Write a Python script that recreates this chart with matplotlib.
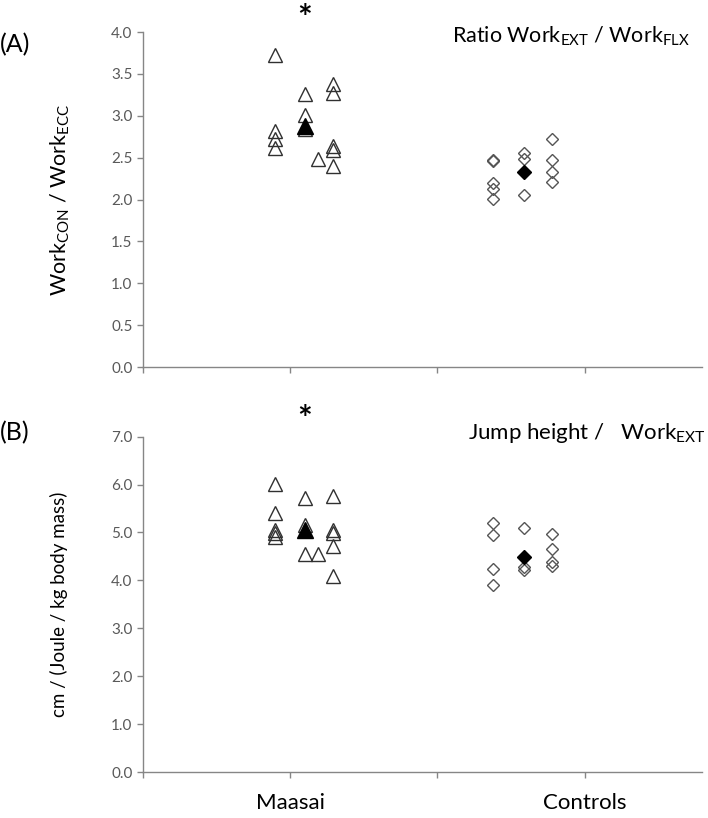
"""Work ratio and jump height per work, Maasai vs controls."""

import matplotlib
matplotlib.use("Agg")
import matplotlib.pyplot as plt

plt.rcParams['font.family'] = ['Lato', 'DejaVu Sans']
plt.rcParams['mathtext.fontset'] = 'custom'
plt.rcParams['mathtext.rm'] = 'Lato'
plt.rcParams['mathtext.it'] = 'Lato:italic'
plt.rcParams['mathtext.bf'] = 'Lato:bold'

# group positions on the x axis
group_labels = ['', 'Maasai', '', 'Controls']
group_ticks = [0, 1, 2, 3]

# (A) Work_CON / Work_ECC -- individual values (x = jittered column)
maasai_x_a = [0.90, 0.90, 0.90, 0.90, 1.10, 1.10, 1.10, 1.19, 1.29, 1.29, 1.29, 1.29, 1.29]
maasai_y_a = [3.73, 2.82, 2.72, 2.61, 3.26, 3.01, 2.84, 2.49, 3.38, 3.27, 2.64, 2.59, 2.40]
maasai_mean_a = (1.10, 2.88)
controls_x_a = [2.38, 2.38, 2.38, 2.38, 2.38, 2.59, 2.59, 2.59, 2.78, 2.78, 2.78, 2.78]
controls_y_a = [2.47, 2.46, 2.20, 2.13, 2.01, 2.55, 2.48, 2.05, 2.72, 2.47, 2.33, 2.21]
controls_mean_a = (2.59, 2.33)

# (B) jump height / Work_EXT
maasai_x_b = [0.90, 0.90, 0.90, 0.90, 0.90, 1.10, 1.10, 1.10, 1.19, 1.29, 1.29, 1.29, 1.29, 1.29]
maasai_y_b = [6.02, 5.41, 5.05, 4.98, 4.90, 5.71, 5.16, 4.56, 4.55, 5.77, 5.06, 4.99, 4.72, 4.10]
maasai_mean_b = (1.10, 5.05)
controls_x_b = [2.38, 2.38, 2.38, 2.38, 2.59, 2.59, 2.59, 2.78, 2.78, 2.78, 2.78]
controls_y_b = [5.20, 4.95, 4.23, 3.90, 5.09, 4.27, 4.22, 4.97, 4.66, 4.39, 4.29]
controls_mean_b = (2.59, 4.48)

axis_grey = '#868686'
tick_grey = '#595959'

fig = plt.figure(figsize=(7.08, 8.18), dpi=100)
ax_a = fig.add_axes([0.202, 0.5513, 0.790, 0.4095])
ax_b = fig.add_axes([0.202, 0.0562, 0.790, 0.4100])


def style_axes(ax, ymax, yticks):
    ax.set_xlim(0, 3.8)
    ax.set_ylim(0, ymax)
    ax.set_yticks(yticks)
    ax.set_yticklabels([f'{t:.1f}' for t in yticks])
    ax.set_xticks(group_ticks)
    for side in ['top', 'right']:
        ax.spines[side].set_visible(False)
    for side in ['left', 'bottom']:
        ax.spines[side].set_color(axis_grey)
        ax.spines[side].set_linewidth(1.0)
    ax.tick_params(axis='both', colors=axis_grey, length=4, width=1,
                   labelcolor=tick_grey, labelsize=11)


def draw_points(ax, mx, my, mmean, cx, cy, cmean):
    ax.plot(mx, my, linestyle='none', marker='^', markersize=9.5,
            markerfacecolor='none', markeredgecolor='#303030', markeredgewidth=1.0)
    ax.plot([mmean[0]], [mmean[1]], linestyle='none', marker='^', markersize=11,
            markerfacecolor='black', markeredgecolor='black')
    ax.plot(cx, cy, linestyle='none', marker='D', markersize=6.5,
            markerfacecolor='none', markeredgecolor='#555555', markeredgewidth=1.0)
    ax.plot([cmean[0]], [cmean[1]], linestyle='none', marker='D', markersize=7.5,
            markerfacecolor='black', markeredgecolor='black')


# panel A
style_axes(ax_a, 4.0, [0.0, 0.5, 1.0, 1.5, 2.0, 2.5, 3.0, 3.5, 4.0])
ax_a.set_xticklabels([])
draw_points(ax_a, maasai_x_a, maasai_y_a, maasai_mean_a,
            controls_x_a, controls_y_a, controls_mean_a)
ax_a.set_ylabel(r'Work$_{\mathrm{CON}}$ / Work$_{\mathrm{ECC}}$', fontsize=15.5, color='black')
ax_a.yaxis.set_label_coords(-0.127, 0.5)
ax_a.text(maasai_mean_a[0], 4.16, '*', fontsize=25, fontweight='bold',
          ha='center', va='center', clip_on=False)

# panel B
style_axes(ax_b, 7.0, [0.0, 1.0, 2.0, 3.0, 4.0, 5.0, 6.0, 7.0])
ax_b.set_xticklabels(group_labels, fontsize=16, color='black')
ax_b.tick_params(axis='x', pad=11)
draw_points(ax_b, maasai_x_b, maasai_y_b, maasai_mean_b,
            controls_x_b, controls_y_b, controls_mean_b)
ax_b.set_ylabel('cm / (Joule / kg body mass)', fontsize=13.5, color='black')
ax_b.yaxis.set_label_coords(-0.134, 0.5)
ax_b.text(maasai_mean_b[0], 7.35, '*', fontsize=25, fontweight='bold',
          ha='center', va='center', clip_on=False)

# panel captions and titles
fig.text(0.0, 1 - 45 / 818, '(A)', fontsize=18, ha='left', va='center')
fig.text(0.0, 1 - 433 / 818, '(B)', fontsize=18, ha='left', va='center')
fig.text(690 / 708, 1 - 36 / 818,
         r'Ratio Work$_{\mathrm{EXT}}$ / Work$_{\mathrm{FLX}}$',
         fontsize=15.5, ha='right', va='center')
fig.text(706 / 708, 1 - 433 / 818,
         r'Jump height /   Work$_{\mathrm{EXT}}$',
         fontsize=16, ha='right', va='center')

fig.savefig('out.png', dpi=100)
